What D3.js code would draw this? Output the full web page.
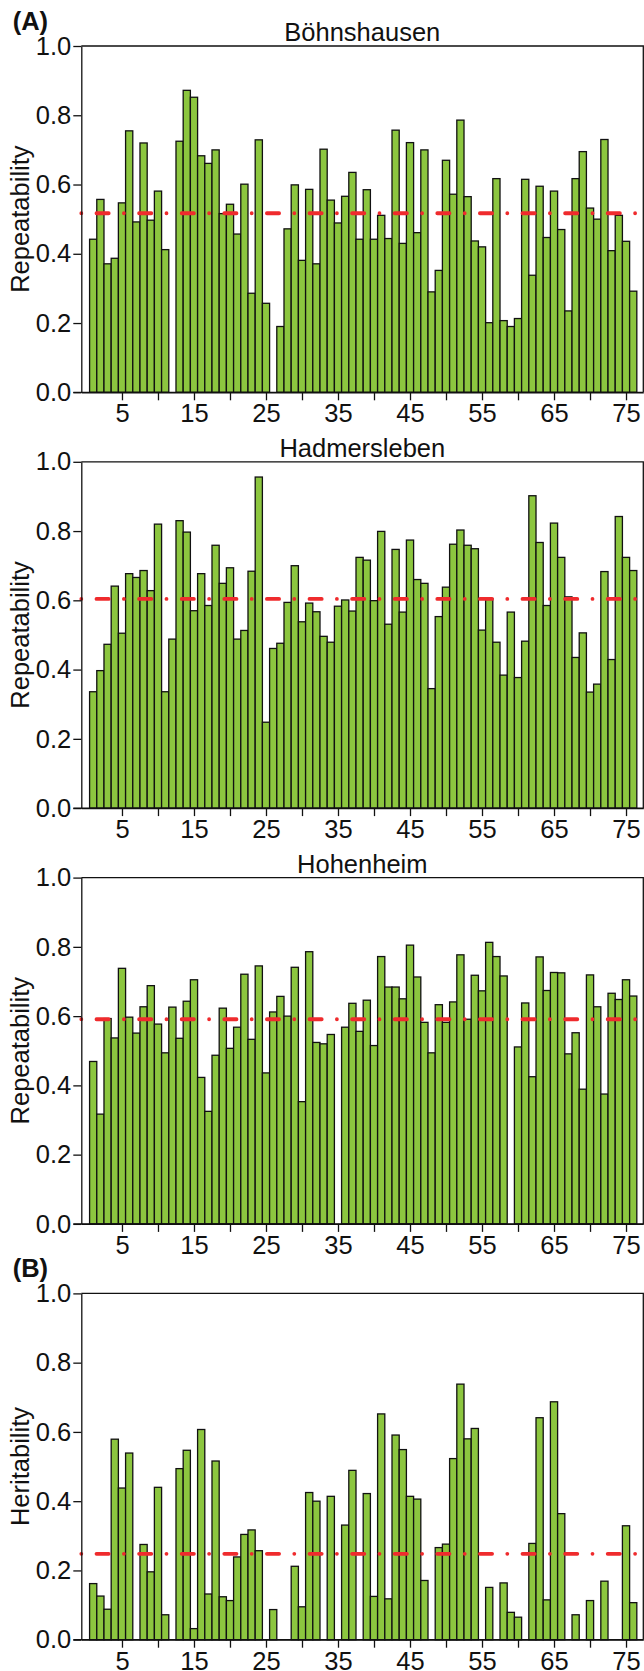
<!DOCTYPE html>
<html>
<head>
<meta charset="utf-8">
<script src="https://cdn.jsdelivr.net/npm/d3@7"></script>
<style>
    body { margin: 0; background: #fff; }
    #chart text { font-family: "Liberation Sans", Arial, sans-serif; fill: #111; }
</style>
</head>
<body>
<div id="chart"></div>
<script>
// bar values per location (null = no bar)
var boehnshausen = [0.442, 0.557, 0.371, 0.387, 0.547, 0.755, 0.492, 0.72, 0.497, 0.581,
    0.412, null, 0.725, 0.872, 0.852, 0.683, 0.661, 0.70, 0.516, 0.543,
    0.457, 0.601, 0.286, 0.729, 0.257, null, 0.19, 0.472, 0.599, 0.381,
    0.586, 0.371, 0.702, 0.555, 0.489, 0.566, 0.635, 0.442, 0.585, 0.442,
    0.511, 0.444, 0.757, 0.43, 0.721, 0.461, 0.70, 0.29, 0.352, 0.67,
    0.572, 0.786, 0.565, 0.437, 0.42, 0.201, 0.617, 0.207, 0.19, 0.213,
    0.615, 0.338, 0.595, 0.447, 0.581, 0.47, 0.235, 0.617, 0.695, 0.532,
    0.50, 0.73, 0.409, 0.511, 0.436, 0.292];

var hadmersleben = [0.336, 0.397, 0.473, 0.641, 0.505, 0.677, 0.666, 0.686, 0.628, 0.82,
    0.336, 0.488, 0.83, 0.797, 0.57, 0.677, 0.585, 0.759, 0.649, 0.694,
    0.488, 0.513, 0.684, 0.956, 0.248, 0.461, 0.476, 0.594, 0.70, 0.538,
    0.592, 0.567, 0.496, 0.479, 0.583, 0.601, 0.569, 0.724, 0.716, 0.599,
    0.799, 0.531, 0.747, 0.566, 0.774, 0.66, 0.649, 0.345, 0.553, 0.638,
    0.762, 0.803, 0.759, 0.749, 0.514, 0.605, 0.479, 0.384, 0.566, 0.377,
    0.482, 0.902, 0.767, 0.585, 0.823, 0.724, 0.61, 0.435, 0.506, 0.335,
    0.358, 0.683, 0.429, 0.842, 0.724, 0.686];

var hohenheim = [0.469, 0.317, 0.593, 0.537, 0.738, 0.597, 0.551, 0.627, 0.688, 0.577,
    0.494, 0.626, 0.536, 0.643, 0.705, 0.423, 0.325, 0.487, 0.623, 0.507,
    0.568, 0.721, 0.533, 0.745, 0.436, 0.612, 0.657, 0.60, 0.741, 0.353,
    0.786, 0.524, 0.52, 0.547, null, 0.568, 0.637, 0.556, 0.646, 0.515,
    0.772, 0.684, 0.684, 0.65, 0.805, 0.713, 0.582, 0.494, 0.633, 0.582,
    0.641, 0.777, 0.591, 0.718, 0.673, 0.813, 0.772, 0.716, null, 0.511,
    0.638, 0.425, 0.771, 0.674, 0.726, 0.725, 0.491, 0.552, 0.389, 0.719,
    0.627, 0.375, 0.666, 0.648, 0.705, 0.658];

var heritability = [0.162, 0.126, 0.088, 0.579, 0.438, 0.539, null, 0.275, 0.196, 0.44,
    0.072, null, 0.494, 0.547, 0.032, 0.607, 0.132, 0.516, 0.124, 0.113,
    0.239, 0.304, 0.317, 0.257, null, 0.087, null, null, 0.212, 0.095,
    0.425, 0.40, null, 0.414, null, 0.331, 0.489, null, 0.422, 0.125,
    0.652, 0.118, 0.591, 0.549, 0.414, 0.406, 0.171, null, 0.266, 0.276,
    0.523, 0.738, 0.58, 0.61, null, 0.151, null, 0.164, 0.079, 0.065,
    null, 0.278, 0.641, 0.115, 0.687, 0.364, null, 0.072, null, 0.113,
    null, 0.169, null, null, 0.329, 0.107];

var panelTitles = ["Böhnshausen", "Hadmersleben", "Hohenheim", ""];
var panelTags = ["(A)", "", "", "(B)"];
var yLabels = ["Repeatability", "Repeatability", "Repeatability", "Heritability"];
var meanValues = [0.517, 0.604, 0.591, 0.248];
var xTickValues = [5, 10, 15, 20, 25, 30, 35, 40, 45, 50, 55, 60, 65, 70, 75];
var xTickLabels = ["5", "", "15", "", "25", "", "35", "", "45", "", "55", "", "65", "", "75"];
var yTickValues = [0, 0.2, 0.4, 0.6, 0.8, 1.0];

var series = [boehnshausen, hadmersleben, hohenheim, heritability];

var width = 644;
var height = 1671;
var margin = { left: 81.3, right: 0.7, top: 46 };
var panelHeight = 346.3;
var panelStep = 415.8;
var plotWidth = width - margin.left - margin.right;
var fontSize = "25.5px";

var svg = d3.select("#chart").append("svg")
    .attr("width", width)
    .attr("height", height);

// shared x scale, bar i spans i-0.5 .. i+0.5
var xScale = d3.scaleLinear()
    .domain([-0.65, 77.4])
    .range([0, plotWidth]);

var yScale = d3.scaleLinear()
    .domain([0, 1])
    .range([panelHeight, 0]);

function drawPanel(k) {
    var values = series[k];
    var g = svg.append("g")
        .attr("transform", "translate(" + margin.left + "," + (margin.top + k * panelStep) + ")");

    var points = [];
    for (var i = 0; i < values.length; i++) {
        if (values[i] !== null) {
            points.push({ x: i + 1, y: values[i] });
        }
    }

    // bars
    g.selectAll(".bar")
        .data(points)
        .enter()
        .append("rect")
        .attr("class", "bar")
        .attr("x", function (d) { return xScale(d.x - 0.5); })
        .attr("width", function (d) { return xScale(d.x + 0.5) - xScale(d.x - 0.5); })
        .attr("y", function (d) { return yScale(d.y); })
        .attr("height", function (d) { return panelHeight - yScale(d.y); })
        .style("fill", "#8cc63f")
        .style("stroke", "#111")
        .style("stroke-width", 1.3);

    // mean line (dot - dash pattern)
    g.append("line")
        .attr("x1", 0)
        .attr("x2", plotWidth)
        .attr("y1", yScale(meanValues[k]))
        .attr("y2", yScale(meanValues[k]))
        .style("stroke", "#ef2b2d")
        .style("stroke-width", 3.8)
        .style("stroke-linecap", "round")
        .style("stroke-dasharray", "0,15.2,12.2,15.2");

    // x axis
    var xAxis = d3.axisBottom(xScale)
        .tickValues(xTickValues)
        .tickFormat(function (d, i) { return xTickLabels[i]; })
        .tickSizeInner(8)
        .tickSizeOuter(0)
        .tickPadding(4);

    var gx = g.append("g")
        .attr("transform", "translate(0," + panelHeight + ")")
        .call(xAxis);

    // y axis
    var yAxis = d3.axisLeft(yScale)
        .tickValues(yTickValues)
        .tickFormat(d3.format(".1f"))
        .tickSizeInner(8)
        .tickSizeOuter(0)
        .tickPadding(2);

    var gy = g.append("g").call(yAxis);

    [gx, gy].forEach(function (ax) {
        ax.selectAll("path, line").style("stroke", "#111").style("stroke-width", 1.3);
        ax.selectAll("text").style("font-size", fontSize);
    });

    // bottom line reaches the 0.0 tick
    g.append("line")
        .attr("x1", -8).attr("x2", plotWidth)
        .attr("y1", panelHeight).attr("y2", panelHeight)
        .style("stroke", "#111").style("stroke-width", 1.3);

    // top and right frame
    g.append("path")
        .attr("d", "M0,0H" + plotWidth + "V" + panelHeight)
        .style("fill", "none")
        .style("stroke", "#111")
        .style("stroke-width", 1.3);

    // title
    if (panelTitles[k]) {
        g.append("text")
            .attr("x", plotWidth / 2)
            .attr("y", -5)
            .style("text-anchor", "middle")
            .style("font-size", fontSize)
            .text(panelTitles[k]);
    }

    // panel tag
    if (panelTags[k]) {
        g.append("text")
            .attr("x", 12.7 - margin.left)
            .attr("y", -16)
            .style("font-size", fontSize)
            .style("font-weight", "bold")
            .text(panelTags[k]);
    }

    // y label
    g.append("text")
        .attr("transform", "rotate(-90)")
        .attr("x", -panelHeight / 2)
        .attr("y", 29 - margin.left)
        .style("text-anchor", "middle")
        .style("font-size", fontSize)
        .text(yLabels[k]);
}

for (var k = 0; k < series.length; k++) {
    drawPanel(k);
}
</script>
</body>
</html>
